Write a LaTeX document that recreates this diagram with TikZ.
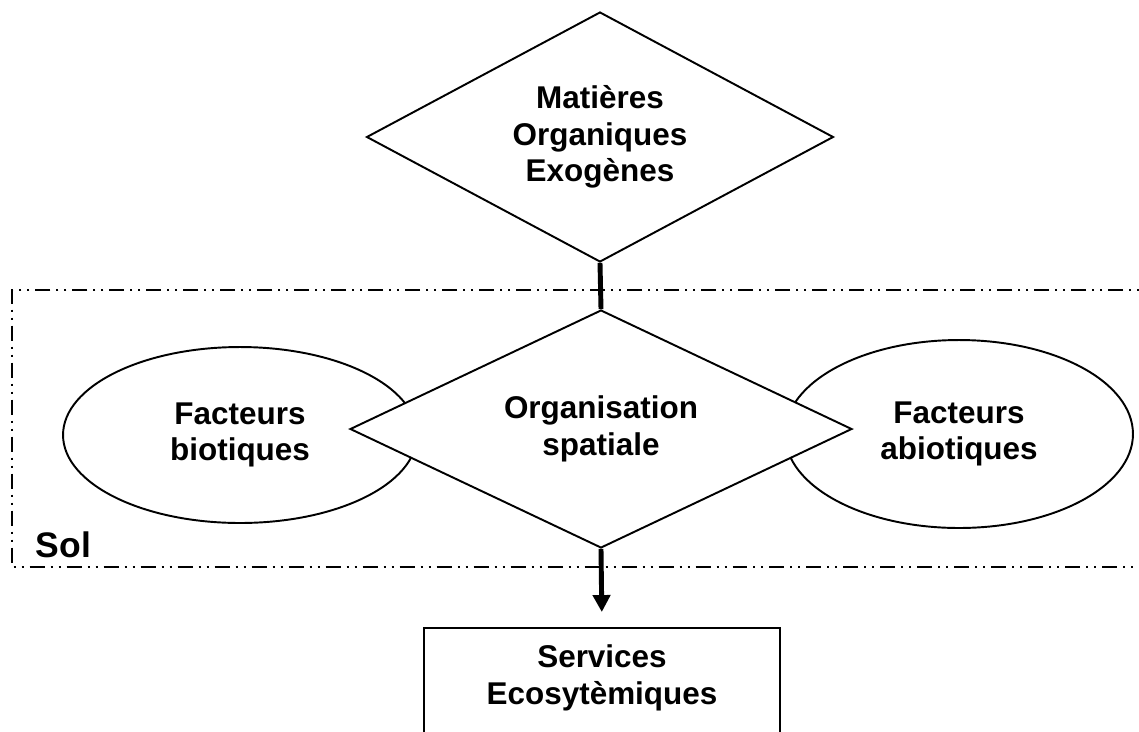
\documentclass[tikz,border=0pt]{standalone}
\usepackage{fontspec}
\setmainfont{Liberation Sans}
\usetikzlibrary{arrows.meta}
\usetikzlibrary{shapes.geometric}

\tikzset{
  losange/.style={diamond, draw, fill=white, inner sep=0pt, align=center},
  bulle/.style={ellipse, draw, fill=white, inner sep=0pt, align=center},
  lien/.style={line width=2.8pt},
  soldash/.style={dash pattern=on 0.3cm off 0.12cm on 0.04cm off 0.12cm on 0.04cm off 0.12cm}
}

\begin{document}
\begin{tikzpicture} [x=0.02cm, y=-0.02cm, line width=1.1pt, font=\fontsize{17.9}{20.9}\selectfont\bfseries]

\useasboundingbox (0,0) rectangle (1139,731);
\clip (0,0) rectangle (1139,731);

\node[bulle, minimum width=7.08cm, minimum height=3.52cm] (biot) at (240,435) {Facteurs\\biotiques};
\node[bulle, minimum width=6.96cm, minimum height=3.76cm] (abiot) at (959,434) {Facteurs\\abiotiques};
\node[losange, shape aspect=2.1, minimum width=10.04cm, minimum height=4.76cm] (orga) at (601,429) {Organisation\\spatiale};
\node[losange, shape aspect=1.87, minimum width=9.34cm, minimum height=5cm] (moe) at (600,137) {Matières\\Organiques\\Exogènes};

\draw[soldash] (1160,290) -- (12,290) -- (12,567) -- (1160,567);
\node[anchor=base west, inner sep=0pt, font=\fontsize{20.2}{24}\selectfont\bfseries] (sol) at (35,557) {Sol};

\node[align=center, minimum width=7.1cm, minimum height=1.96cm] (serv) at (602,678) {Services\\Ecosytèmiques};
\draw ([yshift=-5mm]serv.south west) -- (serv.north west) -- (serv.north east) -- ([yshift=-5mm]serv.south east);

\draw[lien] (moe.south) -- (orga.north);
\draw[lien, -{Triangle[length=0.34cm, width=0.34cm]}, shorten >=0.32cm] (orga.south) -- (serv.north);

\end{tikzpicture}
\end{document}
